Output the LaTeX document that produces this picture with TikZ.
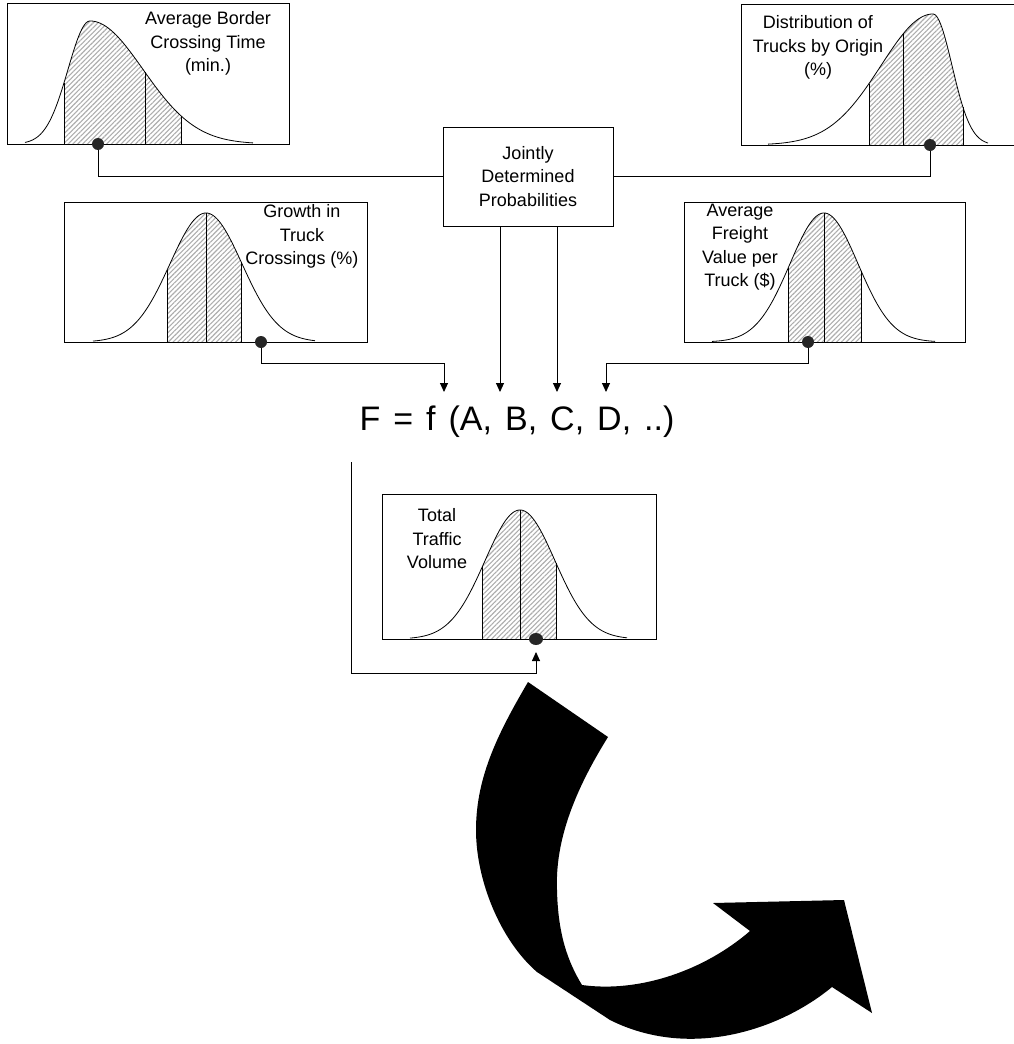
\documentclass[tikz,border=0pt]{standalone}
\usepackage{fontspec}
\setmainfont{Liberation Sans}
\usetikzlibrary{arrows.meta,patterns.meta,shapes.geometric}
\begin{document}
\begin{tikzpicture}[x=1pt,y=-1pt,
 box/.style={draw,line width=0.9pt,inner sep=0pt,outer sep=0pt},
 lbl/.style={align=center,font=\fontsize{18}{23.5}\selectfont,inner sep=0pt},
 crv/.style={line width=0.8pt},
 hatch/.style={pattern={Lines[angle=45,distance=3.4pt,line width=1.1pt]},pattern color=black!32},
 vline/.style={line width=0.9pt},
 dot/.style={circle,fill=black!85,inner sep=0pt,minimum size=12pt},
 conn/.style={line width=0.9pt},
 arr/.style={conn,-{Triangle[width=8pt,length=9pt]}},
 declare function={sn(\x,\m,\a,\b)=exp(-0.5*((\x-\m)/ifthenelse(\x<\m,\a,\b))^2);}
]
\useasboundingbox (0,0) rectangle (1013,1044);

% ---------- Box A: Average Border Crossing Time ----------
\fill[hatch] plot[domain=64:181,samples=60] (\x,{144-123*sn(\x,90,22,53)}) -- (181,144) -- (64,144) -- cycle;
\draw[crv] plot[domain=25:253,samples=150] (\x,{144-123*sn(\x,90,22,53)});
\foreach \v in {64,145,181} \draw[vline] (\v,144) -- (\v,{144-123*sn(\v,90,22,53)});
\node[box,minimum width=282pt,minimum height=141pt] (bA) at (148,73.5) {};
\node[lbl] (tA) at (208,43.5) {Average Border\\Crossing Time\\(min.)};
\node[dot] (dA) at (98,144) {};

% ---------- Box B: Distribution of Trucks by Origin ----------
\fill[hatch] plot[domain=869:963,samples=60] (\x,{145-131*sn(\x,933,52,19)}) -- (963,145) -- (869,145) -- cycle;
\draw[crv] plot[domain=768:988,samples=150] (\x,{145-131*sn(\x,933,52,19)});
\foreach \v in {869,903,963} \draw[vline] (\v,145) -- (\v,{145-131*sn(\v,933,52,19)});
\node[box,minimum width=279pt,minimum height=141pt] (bB) at (880.5,74.5) {};
\node[lbl] (tB) at (818,47.5) {Distribution of\\Trucks by Origin\\(\%)};
\node[dot] (dB) at (930,145) {};

% ---------- Box C: Growth in Truck Crossings ----------
\fill[hatch] plot[domain=167:241,samples=50] (\x,{342-129*sn(\x,206,36,36)}) -- (241,342) -- (167,342) -- cycle;
\draw[crv] plot[domain=93:315,samples=150] (\x,{342-129*sn(\x,206,36,36)});
\foreach \v in {167,206,241} \draw[vline] (\v,342) -- (\v,{342-129*sn(\v,206,36,36)});
\node[box,minimum width=303pt,minimum height=140pt] (bC) at (215.5,272) {};
\node[lbl] (tC) at (302,236.5) {Growth in\\Truck\\Crossings (\%)};
\node[dot] (dC) at (261,342) {};

% ---------- Box D: Average Freight Value per Truck ----------
\fill[hatch] plot[domain=788:861,samples=50] (\x,{342-129*sn(\x,824,34,34)}) -- (861,342) -- (788,342) -- cycle;
\draw[crv] plot[domain=712:935,samples=150] (\x,{342-129*sn(\x,824,34,34)});
\foreach \v in {788,824,861} \draw[vline] (\v,342) -- (\v,{342-129*sn(\v,824,34,34)});
\node[box,minimum width=281pt,minimum height=140pt] (bD) at (824.5,272) {};
\node[lbl] (tD) at (740,247) {Average\\Freight\\Value per\\Truck (\$)};
\node[dot] (dD) at (808,342) {};

% ---------- Jointly Determined Probabilities ----------
\node[box,lbl,minimum width=170pt,minimum height=99pt] (J) at (528,176.5) {Jointly\\Determined\\Probabilities};

% ---------- Formula ----------
\node[anchor=base,inner sep=0pt,font=\fontsize{34}{40}\selectfont] (F) at (517,430) {\spaceskip=13pt F = f (A, B, C, D, ..)};

% ---------- Box T: Total Traffic Volume ----------
\fill[hatch] plot[domain=482:556,samples=50] (\x,{639-129*sn(\x,520,35,35)}) -- (556,639) -- (482,639) -- cycle;
\draw[crv] plot[domain=410:627,samples=150] (\x,{639-129*sn(\x,520,35,35)});
\foreach \v in {482,520,556} \draw[vline] (\v,639) -- (\v,{639-129*sn(\v,520,35,35)});
\node[box,minimum width=274pt,minimum height=145pt] (bT) at (519,566.5) {};
\node[lbl] (tT) at (437,539) {Total\\Traffic\\Volume};
\node[ellipse,fill=black!85,inner sep=0pt,minimum width=14pt,minimum height=12pt] (dT) at (536,639) {};

% ---------- Connectors ----------
\coordinate (a1) at (444,392);
\coordinate (a2) at (500,392);
\coordinate (a3) at (557,392);
\coordinate (a4) at (606,392);
\draw[conn] (dA) |- (J);
\draw[conn] (dB) |- (J);
\draw[arr] (dC) -- ++(0,21) -| (a1);
\draw[arr] (dD) -- ++(0,21) -| (a4);
\draw[arr] (J.south -| a2) -- (a2);
\draw[arr] (J.south -| a3) -- (a3);
\coordinate (o1) at (351,462);
\coordinate (o3) at (351,673);
\coordinate (o2) at (536,652);
\draw[arr] (o1) -- (o3) -| (o2);

% ---------- Big curved arrow ----------
\fill (528,682) -- (608,737)
  .. controls (575,790) and (555,840) .. (557,890)
  .. controls (558,935) and (568,962) .. (582,985)
  .. controls (640,993) and (705,970) .. (750,931)
  -- (713,903) -- (844,900) -- (872,1013) -- (832,987)
  .. controls (780,1030) and (690,1060) .. (610,1020)
  -- (537,972)
  .. controls (500,940) and (476,880) .. (476,830)
  .. controls (476,775) and (500,730) .. (528,682) -- cycle;
\end{tikzpicture}
\end{document}
